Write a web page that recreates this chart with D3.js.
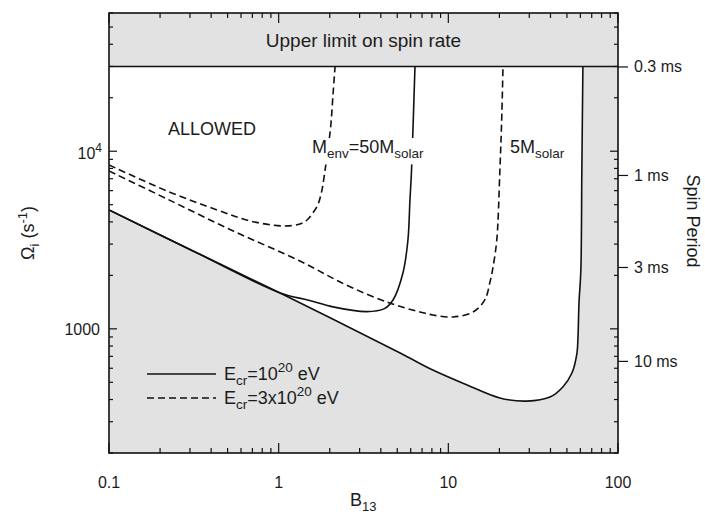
<!DOCTYPE html>
<html><head><meta charset="utf-8">
<script src="https://cdn.jsdelivr.net/npm/d3@7"></script>
<style>
body{margin:0;background:#fff}
svg{display:block}
text{font-family:"Liberation Sans",Arial,Helvetica,sans-serif;fill:#1c1c1c}
</style>
</head><body><svg id="chart" width="705" height="515"></svg>
<script>
// ---------- data ----------
const xDomain = [0.1, 100];          // B_13
const yDomain = [200, 60000];        // Omega_i (s^-1)
const upperLimitOmega = 30000;
const xTickLabels = [[0.1,"0.1"],[1,"1"],[10,"10"],[100,"100"]];
const periodTicks = [0.3, 1, 3, 10];
const periodTickLabels = ["0.3 ms","1 ms","3 ms","10 ms"];
const periodOmega = [30000, 7350, 2230, 660];

// E_cr = 1e20 eV, M_env = 5 Msolar (lower boundary of allowed region)
const solid5M_B = [0.1, 0.3, 1.02, 5.2, 8.1, 12.9, 20.1, 29, 39.7, 47.3, 53.5, 57.3, 58.1, 58.9, 60.4, 61.2, 62.1];
const solid5M_W = [4670, 2800, 1593, 731, 586, 483, 408, 392, 413, 471, 564, 731, 900, 1398, 2145, 7540, 30000];
// E_cr = 1e20 eV, M_env = 50 Msolar
const solid50M_B = [0.1, 0.3, 1.02, 1.5, 2.09, 3.3, 4.2, 4.72, 5.4, 5.78, 5.94, 6.07, 6.2, 6.36];
const solid50M_W = [4670, 2800, 1593, 1450, 1330, 1250, 1300, 1454, 2063, 3165, 5315, 7840, 14000, 30000];
// E_cr = 3e20 eV, M_env = 50 Msolar
const dashed50M_B = [0.1, 0.22, 0.433, 0.678, 1.06, 1.335, 1.47, 1.59, 1.70, 1.80, 1.87, 1.95, 2.03, 2.09, 2.15];
const dashed50M_W = [8370, 5970, 4670, 4050, 3795, 3895, 4100, 4490, 4980, 6050, 7640, 10160, 14050, 20740, 30000];
// E_cr = 3e20 eV, M_env = 5 Msolar
const dashed5M_B = [0.1, 0.22, 0.54, 1.335, 2.5, 4.5, 6.8, 8.1, 10.6, 14, 16.4, 17.6, 18.3, 19.3, 20.1, 20.6, 21.0];
const dashed5M_W = [7740, 5385, 3556, 2410, 1766, 1398, 1245, 1197, 1166, 1245, 1454, 1836, 2200, 3165, 7540, 14430, 30000];

// ---------- layout ----------
const L = 109, R = 618, T = 13, B = 453;
const svg = d3.select("#chart");
const x = d3.scaleLog().domain(xDomain).range([L, R]);
const y = d3.scaleLog().domain(yDomain).range([B, T]);
const zip = (bs, ws) => bs.map((b, i) => [b, ws[i]]);
const line = d3.line().x(d => x(d[0])).y(d => y(d[1])).curve(d3.curveCatmullRom.alpha(0.5));

svg.append("defs").append("clipPath").attr("id","clip")
  .append("rect").attr("x",L).attr("y",T).attr("width",R-L).attr("height",B-T);

const plot = svg.append("g").attr("clip-path","url(#clip)");
const gray = "#e2e2e2";

// forbidden region (below/right of the lower boundary)
const boundary = zip(solid5M_B, solid5M_W);
plot.append("path")
  .attr("d", line(boundary) + `L${x(xDomain[1])},${y(upperLimitOmega)}L${x(xDomain[1])},${y(yDomain[0])}L${x(xDomain[0])},${y(yDomain[0])}Z`)
  .attr("fill", gray);
// upper limit band
plot.append("rect").attr("x",L).attr("width",R-L)
  .attr("y",y(yDomain[1])).attr("height",y(upperLimitOmega)-y(yDomain[1])).attr("fill",gray);
plot.append("line").attr("x1",L).attr("x2",R).attr("y1",y(upperLimitOmega)).attr("y2",y(upperLimitOmega))
  .attr("stroke","#111").attr("stroke-width",1.6);

const curves = [
  {d: zip(solid5M_B, solid5M_W), dash: null},
  {d: zip(solid50M_B, solid50M_W), dash: null},
  {d: zip(dashed50M_B, dashed50M_W), dash: "7,4"},
  {d: zip(dashed5M_B, dashed5M_W), dash: "7,4"}
];
curves.forEach(c => {
  plot.append("path").attr("d", line(c.d)).attr("fill","none")
    .attr("stroke","#111").attr("stroke-width",1.6)
    .attr("stroke-dasharray", c.dash);
});

// ---------- labels inside ----------
svg.append("text").attr("x",(L+R)/2).attr("y",47).attr("text-anchor","middle")
  .attr("font-size",19).text("Upper limit on spin rate");
svg.append("text").attr("x",168).attr("y",135).attr("font-size",18).text("ALLOWED");

function subLabel(g, parts, xx, yy, fs) {
  const t = g.append("text").attr("x",xx).attr("y",yy).attr("font-size",fs);
  parts.forEach(p => {
    const ts = t.append("tspan").text(p[0]);
    if (p[1] === "sub") ts.attr("font-size",fs*0.75).attr("dy",fs*0.3);
    else if (p[1] === "sup") ts.attr("font-size",fs*0.75).attr("dy",-fs*0.42);
    else if (p[1] === "back") ts.attr("dy",-fs*0.3);
    else if (p[1] === "down") ts.attr("dy",fs*0.42);
  });
  return t;
}
const mg = svg.append("g");
const mbg = mg.append("rect").attr("fill","#fff");
const mt = subLabel(mg, [["M"],["env","sub"],["=50M","back"],["solar","sub"]], 312, 153, 18);
const bb = mt.node().getBBox();
mbg.attr("x",bb.x-2).attr("y",bb.y+1).attr("width",bb.width+4).attr("height",bb.height+2);
subLabel(svg, [["5M"],["solar","sub"]], 510, 153, 18);

// legend
const lg = svg.append("g");
lg.append("line").attr("x1",147).attr("x2",216).attr("y1",374).attr("y2",374).attr("stroke","#111").attr("stroke-width",1.6);
lg.append("line").attr("x1",147).attr("x2",216).attr("y1",398).attr("y2",398).attr("stroke","#111").attr("stroke-width",1.6).attr("stroke-dasharray","7,4");
subLabel(lg, [["E"],["cr","sub"],["=10","back"],["20","sup"],[" eV","down"]], 224, 380, 18);
subLabel(lg, [["E"],["cr","sub"],["=3x10","back"],["20","sup"],[" eV","down"]], 224, 404, 18);

// ---------- frame & ticks ----------
const xt = x.ticks(), yt = y.ticks();
const isMajor = v => Math.abs(Math.log10(v) - Math.round(Math.log10(v))) < 1e-6;
const tk = svg.append("g").attr("stroke","#111").attr("stroke-width",1.2);
xt.forEach(v => {
  const len = isMajor(v) ? 10 : 5;
  tk.append("line").attr("x1",x(v)).attr("x2",x(v)).attr("y1",B).attr("y2",B-len);
  tk.append("line").attr("x1",x(v)).attr("x2",x(v)).attr("y1",T).attr("y2",T+len);
});
yt.forEach(v => {
  const len = isMajor(v) ? 8 : 4;
  tk.append("line").attr("x1",L).attr("x2",L+len).attr("y1",y(v)).attr("y2",y(v));
  tk.append("line").attr("x1",R).attr("x2",R-len).attr("y1",y(v)).attr("y2",y(v));
});
svg.append("rect").attr("x",L).attr("y",T).attr("width",R-L).attr("height",B-T)
  .attr("fill","none").attr("stroke","#111").attr("stroke-width",1.6);

// x tick labels
xTickLabels.forEach(([v, s]) => {
  svg.append("text").attr("x",x(v)).attr("y",488).attr("text-anchor","middle").attr("font-size",16).text(s);
});
// y tick labels
svg.append("text").attr("x",100).attr("y",y(1000)+6).attr("text-anchor","end").attr("font-size",16).text("1000");
const t4 = svg.append("text").attr("x",102).attr("y",y(10000)+8).attr("text-anchor","end").attr("font-size",16);
t4.append("tspan").text("10");
t4.append("tspan").attr("font-size",12).attr("dy",-7).text("4");

// period axis (right)
const p = d3.scaleLog().domain(periodTicks).range(periodOmega.map(w => y(w)));
const pAxis = d3.axisRight(p).tickValues(periodTicks).tickFormat((d,i) => periodTickLabels[i])
  .tickSizeInner(10).tickSizeOuter(0).tickPadding(6);
const pg = svg.append("g").attr("transform",`translate(${R},0)`).call(pAxis);
pg.select(".domain").remove();
pg.selectAll(".tick line").attr("stroke","#111").attr("stroke-width",1.2);
pg.selectAll(".tick text").attr("font-size",16).attr("font-family","Liberation Sans, Arial, sans-serif").attr("fill","#1c1c1c");

// axis titles
const xl = svg.append("text").attr("x",350).attr("y",506).attr("font-size",18);
xl.append("tspan").text("B");
xl.append("tspan").attr("font-size",13).attr("dy",5).text("13");

const yl = svg.append("text").attr("transform","translate(34,233) rotate(-90)").attr("text-anchor","middle").attr("font-size",18);
yl.append("tspan").text("Ω");
yl.append("tspan").attr("font-size",13).attr("dy",5).text("i");
yl.append("tspan").attr("dy",-5).text(" (s");
yl.append("tspan").attr("font-size",13).attr("dy",-7).text("-1");
yl.append("tspan").attr("dy",7).text(")");

svg.append("text").attr("transform","translate(687,221) rotate(90)").attr("text-anchor","middle")
  .attr("font-size",18).text("Spin Period");
</script>
</body></html>
